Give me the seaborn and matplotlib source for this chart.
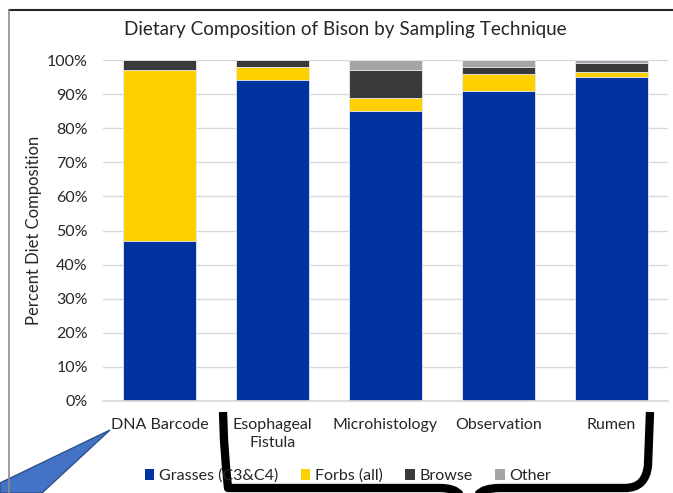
import matplotlib.pyplot as plt
import numpy as np
import pandas as pd
import seaborn as sns
from matplotlib.lines import Line2D
from matplotlib.patches import PathPatch, Patch, Polygon
from matplotlib.path import Path

techniques = ["DNA Barcode", "Esophageal\nFistula", "Microhistology", "Observation", "Rumen"]
grasses = [47, 94, 85, 91, 95]
forbs = [50, 4, 4, 5, 1.5]
browse = [3, 2, 8, 2, 2.5]
other = [0, 0, 3, 2, 1]

series = ["Grasses (C3&C4)", "Forbs (all)", "Browse", "Other"]
colors = ["#0033A0", "#FFD000", "#3A3A3A", "#A5A5A5"]

W, H = 673, 493
sns.set_theme(style="white")
plt.rcParams["font.family"] = ["Lato", "DejaVu Sans"]

fig = plt.figure(figsize=(W / 100, H / 100), dpi=100)
ax = fig.add_axes([103 / W, 1 - 401 / H, 565 / W, 341 / H])

# stacked bars: draw cumulative totals from the top layer down
layers = np.array([grasses, forbs, browse, other], dtype=float) / 100
cum = np.cumsum(layers, axis=0)
for i in range(len(series) - 1, -1, -1):
    df = pd.DataFrame({"technique": techniques, "value": cum[i]})
    sns.barplot(data=df, x="technique", y="value", color=colors[i],
                width=0.64, edgecolor="#E8ECF5", linewidth=0.6,
                saturation=1, ax=ax, zorder=2)

ax.set_ylim(0, 1)
ax.set_xlim(-0.5, 4.5)
ticks = np.arange(0, 1.01, 0.1)
ax.set_yticks(ticks)
ax.set_yticklabels([f"{int(round(v * 100))}%" for v in ticks])
ax.yaxis.grid(True, color="#D9D9D9", linewidth=1, zorder=0)
ax.set_axisbelow(True)
for s in ["top", "right", "left"]:
    ax.spines[s].set_visible(False)
ax.spines["bottom"].set_color("#D9D9D9")
ax.tick_params(axis="y", length=0, pad=11, labelsize=11.5, labelcolor="#262626")
ax.tick_params(axis="x", length=0, pad=12, labelsize=11.5, labelcolor="#262626")
for lbl in ax.get_xticklabels():
    lbl.set_linespacing(1.35)
ax.set_xlabel("")
ax.set_ylabel("Percent Diet Composition", fontsize=12, color="#262626")
ax.yaxis.set_label_coords((42 - 103) / 565, 0.5)

fig.text(345 / W, 1 - 30 / H, "Dietary Composition of Bison by Sampling Technique",
         ha="center", va="center", fontsize=13.6, color="#262626")

handles = [Patch(facecolor=c, edgecolor="none") for c in colors]
fig.legend(handles, series, loc="center", bbox_to_anchor=(348 / W, 1 - 476 / H),
           ncol=4, frameon=False, fontsize=11.5, handlelength=0.6, handleheight=0.6,
           handletextpad=0.3, columnspacing=1.4, labelcolor="#262626")


def px(x, y):
    return (x / W, 1 - y / H)


# chart frame (partially visible)
fig.add_artist(Line2D([9 / W, 1], [1 - 9.5 / H, 1 - 9.5 / H], transform=fig.transFigure,
                      color="#262626", linewidth=1.5))
fig.add_artist(Line2D([9 / W, 9 / W], [0, 1 - 9.5 / H], transform=fig.transFigure,
                      color="#8C8C8C", linewidth=1.2))

# curly brace under the bars
brace_px = [(223, 412), (224, 440), (226, 470), (228, 488), (250, 488),
            (440, 488), (455, 488), (460, 495),
            (478, 495), (483, 488), (500, 488),
            (625, 488), (646, 488), (648, 465), (650, 412)]
codes = [Path.MOVETO, Path.LINETO, Path.CURVE3, Path.CURVE3, Path.LINETO,
         Path.LINETO, Path.CURVE3, Path.CURVE3,
         Path.MOVETO, Path.CURVE3, Path.CURVE3,
         Path.LINETO, Path.CURVE3, Path.CURVE3, Path.LINETO]
brace = Path([px(*p) for p in brace_px], codes)
fig.add_artist(PathPatch(brace, transform=fig.transFigure, facecolor="none",
                         edgecolor="black", linewidth=6, capstyle="butt", joinstyle="round"))

# blue callout pointer
callout = Polygon([px(110, 430), px(0, 483), px(0, 493), px(42, 493)], closed=True,
                  transform=fig.transFigure, facecolor="#4472C4", edgecolor="#2F528F",
                  linewidth=1)
fig.add_artist(callout)

fig.savefig("out.png", dpi=100)
